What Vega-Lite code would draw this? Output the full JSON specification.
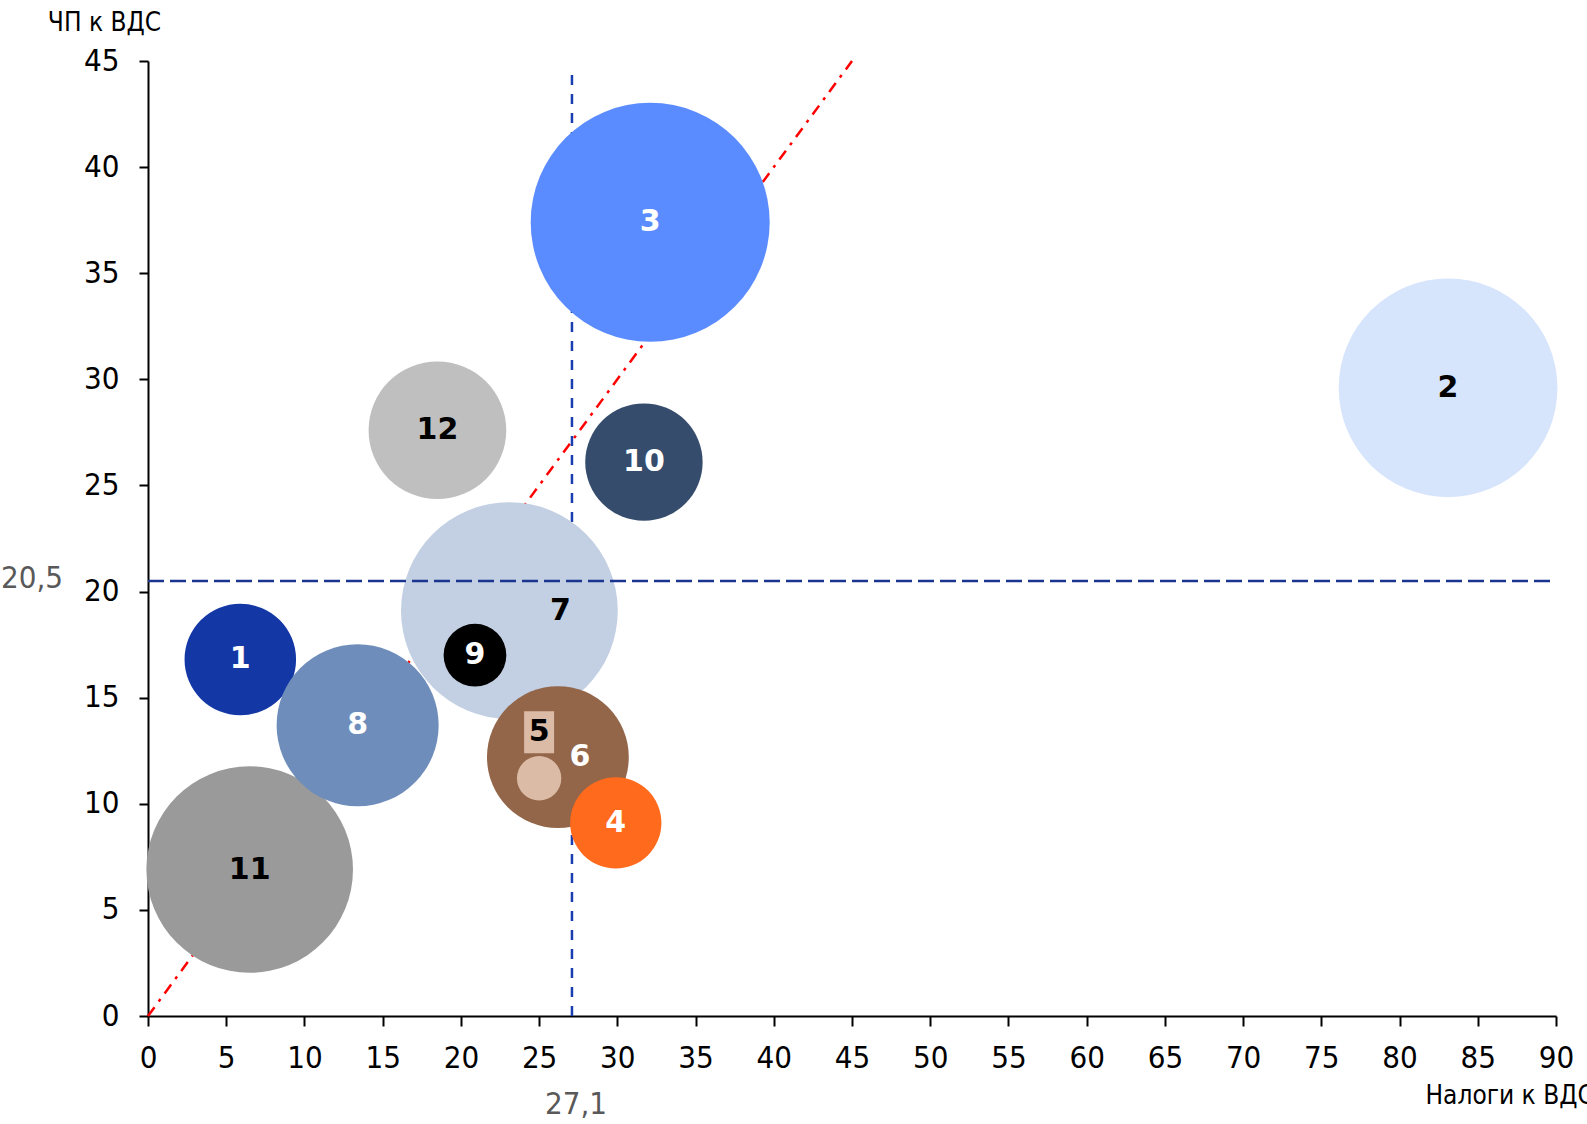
{
  "$schema": "https://vega.github.io/schema/vega-lite/v6.json",
  "width": 1408,
  "height": 955,
  "autosize": {"type": "none"},
  "padding": {"left": 148, "top": 61, "right": 31, "bottom": 108},
  "background": "white",
  "config": {
    "view": {"stroke": null},
    "font": "DejaVu Sans Condensed",
    "axis": {
      "domainColor": "black",
      "domainWidth": 2,
      "tickColor": "black",
      "tickWidth": 2,
      "grid": false,
      "labelFont": "DejaVu Sans Condensed",
      "labelFontSize": 31,
      "labelColor": "black",
      "labelFlush": false,
      "labelOverlap": false,
      "titleFont": "DejaVu Sans Condensed",
      "titleFontSize": 26,
      "titleFontWeight": "normal",
      "titleColor": "black"
    }
  },
  "datasets": {
    "bubbles": [
      {"id": 2, "x": 83.1, "y": 29.6, "v": 116.6},
      {"id": 3, "x": 32.1, "y": 37.4, "v": 139.2},
      {"id": 11, "x": 6.5, "y": 6.9, "v": 104.0},
      {"id": 7, "x": 23.1, "y": 19.1, "v": 114.5},
      {"id": 12, "x": 18.5, "y": 27.6, "v": 46.2},
      {"id": 6, "x": 26.2, "y": 12.2, "v": 49.0},
      {"id": 1, "x": 5.9, "y": 16.8, "v": 30.3},
      {"id": 8, "x": 13.4, "y": 13.7, "v": 64.0},
      {"id": 10, "x": 31.7, "y": 26.1, "v": 33.6},
      {"id": 4, "x": 29.9, "y": 9.1, "v": 20.3},
      {"id": 9, "x": 20.9, "y": 17.0, "v": 9.6},
      {"id": 5, "x": 25.0, "y": 11.2, "v": 4.8}
    ],
    "diag": [{"x": 0, "y": 0}, {"x": 45, "y": 45}],
    "vline": [{"x": 27.1, "y": 0, "y2": 44.6}],
    "hline": [{"x": 0, "x2": 90, "y": 20.5}],
    "noteY": [{"x": 0, "y": 20.5, "label": "20,5"}],
    "noteX": [{"x": 27.1, "y": 0, "label": "27,1"}]
  },
  "encoding": {
    "x": {
      "field": "x",
      "type": "quantitative",
      "scale": {"domain": [0, 90], "nice": false, "zero": false},
      "axis": {
        "values": [0, 5, 10, 15, 20, 25, 30, 35, 40, 45, 50, 55, 60, 65, 70, 75, 80, 85, 90],
        "tickSize": 10,
        "labelPadding": 17,
        "title": "Налоги к ВДС",
        "titleX": 1277,
        "titleY": 79,
        "titleAlign": "left",
        "titleBaseline": "middle",
        "titleAnchor": null
      }
    },
    "y": {
      "field": "y",
      "type": "quantitative",
      "scale": {"domain": [0, 45], "nice": false, "zero": false},
      "axis": {
        "values": [0, 5, 10, 15, 20, 25, 30, 35, 40, 45],
        "tickSize": 9,
        "labelPadding": 20,
        "title": "ЧП к ВДС",
        "titleAngle": 0,
        "titleX": -44,
        "titleY": -39,
        "titleAlign": "center",
        "titleBaseline": "middle",
        "titleAnchor": null
      }
    }
  },
  "layer": [
    {
      "data": {"name": "diag"},
      "mark": {"type": "line", "color": "#FF0000", "strokeWidth": 2.5, "strokeDash": [11, 7, 3, 7]},
      "encoding": {}
    },
    {
      "data": {"name": "vline"},
      "mark": {"type": "rule", "color": "#1A3DB0", "strokeWidth": 2.5, "strokeDash": [10, 9]},
      "encoding": {"y2": {"field": "y2"}}
    },
    {
      "data": {"name": "bubbles"},
      "mark": {"type": "circle", "opacity": 1},
      "encoding": {
        "size": {
          "field": "v",
          "type": "quantitative",
          "scale": {"domain": [0, 140], "range": [0, 57450]},
          "legend": null
        },
        "color": {
          "field": "id",
          "type": "nominal",
          "scale": {
            "domain": [1, 2, 3, 4, 5, 6, 7, 8, 9, 10, 11, 12],
            "range": ["#1338A6", "#D6E4FC", "#5B8CFF", "#FF6A1C", "#DBBBA6", "#93664A", "#C3CFE2", "#6E8DBB", "#000000", "#364C6C", "#9A9A9A", "#BFBFBF"]
          },
          "legend": null
        }
      }
    },
    {
      "data": {"name": "bubbles"},
      "transform": [{"filter": "datum.id == 5"}],
      "mark": {"type": "point", "shape": "M-0.714,-1H0.714V1H-0.714Z", "filled": true, "color": "#DBBBA6", "opacity": 1, "size": 1764, "yOffset": -46}
    },
    {
      "data": {"name": "hline"},
      "mark": {"type": "rule", "color": "#1A3590", "strokeWidth": 2.5, "strokeDash": [16, 6]},
      "encoding": {"x2": {"field": "x2"}}
    },
    {
      "data": {"name": "bubbles"},
      "transform": [{"filter": "datum.id != 5 && datum.id != 6 && datum.id != 7"}],
      "mark": {"type": "text", "fontSize": 30, "fontWeight": "bold", "font": "DejaVu Sans", "align": "center", "baseline": "middle"},
      "encoding": {
        "text": {"field": "id"},
        "color": {"condition": {"test": "indexof([2, 11, 12], datum.id) >= 0", "value": "#000000"}, "value": "#FFFFFF"}
      }
    },
    {
      "data": {"name": "bubbles"},
      "transform": [{"filter": "datum.id == 5"}],
      "mark": {"type": "text", "fontSize": 30, "fontWeight": "bold", "font": "DejaVu Sans", "align": "center", "baseline": "middle", "dy": -46, "color": "#000000"},
      "encoding": {"text": {"field": "id"}}
    },
    {
      "data": {"name": "bubbles"},
      "transform": [{"filter": "datum.id == 6"}],
      "mark": {"type": "text", "fontSize": 30, "fontWeight": "bold", "font": "DejaVu Sans", "align": "center", "baseline": "middle", "dx": 22, "color": "#FFFFFF"},
      "encoding": {"text": {"field": "id"}}
    },
    {
      "data": {"name": "bubbles"},
      "transform": [{"filter": "datum.id == 7"}],
      "mark": {"type": "text", "fontSize": 30, "fontWeight": "bold", "font": "DejaVu Sans", "align": "center", "baseline": "middle", "dx": 51, "color": "#000000"},
      "encoding": {"text": {"field": "id"}}
    },
    {
      "data": {"name": "noteY"},
      "mark": {"type": "text", "fontSize": 31, "color": "#595959", "align": "center", "baseline": "middle", "dx": -116, "dy": -2},
      "encoding": {"text": {"field": "label"}}
    },
    {
      "data": {"name": "noteX"},
      "mark": {"type": "text", "fontSize": 31, "color": "#595959", "align": "center", "baseline": "middle", "dx": 4, "dy": 89},
      "encoding": {"text": {"field": "label"}}
    }
  ]
}
